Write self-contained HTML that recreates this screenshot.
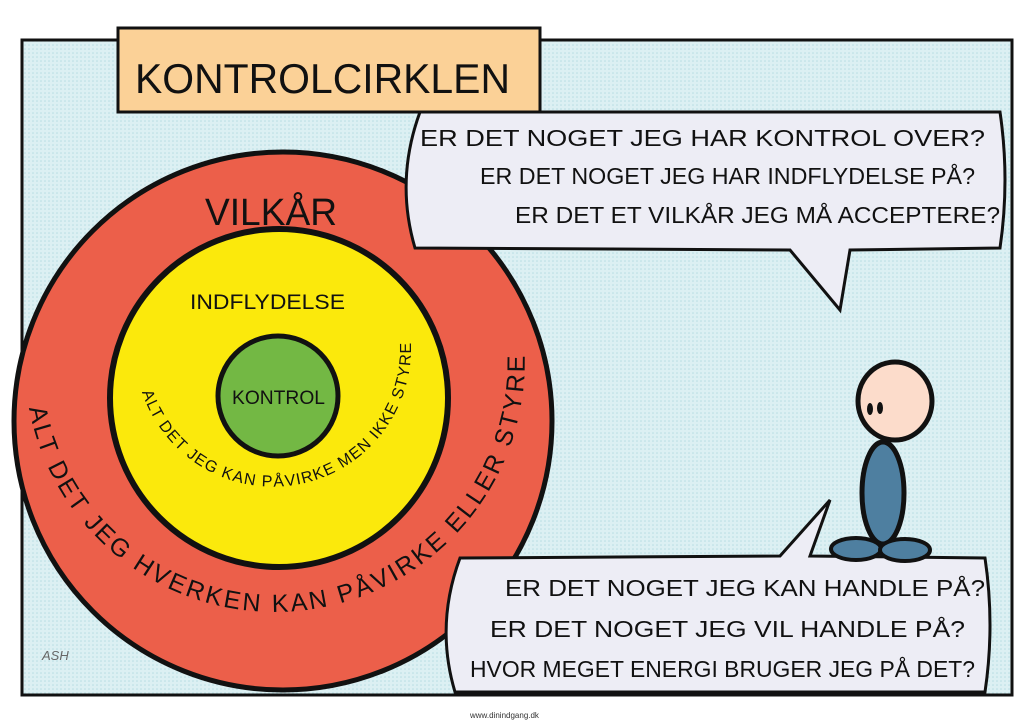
<!DOCTYPE html>
<html><head><meta charset="utf-8"><style>
body{margin:0;width:1024px;height:724px;background:#fff;overflow:hidden;font-family:"Liberation Sans",sans-serif}
svg{display:block}
</style></head><body>
<svg width="1024" height="724" viewBox="0 0 1024 724">
<defs>
<pattern id="dots" width="4" height="4" patternUnits="userSpaceOnUse"><rect width="4" height="4" fill="#dcf0f3"/><circle cx="1" cy="1" r="0.8" fill="#b8dde3"/></pattern>
</defs>
<rect x="22" y="40" width="990" height="655" fill="url(#dots)" stroke="#111" stroke-width="3"/>
<!-- title -->
<rect x="118" y="28" width="422" height="84" fill="#fbd197" stroke="#111" stroke-width="3"/>
<text x="135" y="93" font-size="42" fill="#111" textLength="375" lengthAdjust="spacingAndGlyphs">KONTROLCIRKLEN</text>
<!-- circles -->
<circle cx="283" cy="421" r="269" fill="#ec5f4a" stroke="#111" stroke-width="5"/>
<circle cx="279" cy="398" r="169" fill="#fbe90c" stroke="#111" stroke-width="6"/>
<circle cx="278" cy="396" r="60" fill="#73b844" stroke="#111" stroke-width="5"/>
<text x="205" y="225" font-size="38" fill="#111" textLength="132" lengthAdjust="spacingAndGlyphs">VILKÅR</text>
<text x="190" y="309" font-size="21" fill="#111" textLength="155" lengthAdjust="spacingAndGlyphs">INDFLYDELSE</text>
<text x="232" y="404" font-size="19" fill="#111" textLength="93" lengthAdjust="spacingAndGlyphs">KONTROL</text>
<path id="yarc" d="M142,392 A138,138 0 0 0 411,346" fill="none"/>
<text font-size="16" fill="#111"><textPath href="#yarc" textLength="395" lengthAdjust="spacing">ALT DET JEG KAN PÅVIRKE MEN IKKE STYRE</textPath></text>
<path id="rarc" d="M29,408 A250,250 0 0 0 524,343" fill="none"/>
<text font-size="25" fill="#111"><textPath href="#rarc" textLength="745" lengthAdjust="spacing">ALT DET JEG HVERKEN KAN PÅVIRKE ELLER STYRE</textPath></text>
<!-- bubble 1 -->
<path d="M420,112 L1000,112 Q1010,180 1000,248 L850,250 L840,310 L790,250 L415,248 Q395,180 420,112 Z" fill="#ededf5" stroke="#111" stroke-width="3"/>
<text x="420" y="146" font-size="23" fill="#111" textLength="565" lengthAdjust="spacingAndGlyphs">ER DET NOGET JEG HAR KONTROL OVER?</text>
<text x="480" y="184" font-size="23" fill="#111" textLength="495" lengthAdjust="spacingAndGlyphs">ER DET NOGET JEG HAR INDFLYDELSE PÅ?</text>
<text x="515" y="223" font-size="23" fill="#111" textLength="485" lengthAdjust="spacingAndGlyphs">ER DET ET VILKÅR JEG MÅ ACCEPTERE?</text>
<!-- bubble 2 -->
<path d="M460,558 L780,556 L830,500 L810,556 L985,558 Q995,625 985,692 L455,692 Q435,625 460,558 Z" fill="#ededf5" stroke="#111" stroke-width="3"/>
<text x="505" y="596" font-size="23" fill="#111" textLength="480" lengthAdjust="spacingAndGlyphs">ER DET NOGET JEG KAN HANDLE PÅ?</text>
<text x="490" y="637" font-size="23" fill="#111" textLength="475" lengthAdjust="spacingAndGlyphs">ER DET NOGET JEG VIL HANDLE PÅ?</text>
<text x="470" y="677" font-size="23" fill="#111" textLength="505" lengthAdjust="spacingAndGlyphs">HVOR MEGET ENERGI BRUGER JEG PÅ DET?</text>
<!-- person -->
<ellipse cx="883" cy="493" rx="21" ry="51" fill="#4e7fa0" stroke="#111" stroke-width="5"/>
<ellipse cx="856" cy="549" rx="25" ry="11" fill="#4e7fa0" stroke="#111" stroke-width="4"/>
<ellipse cx="905" cy="550" rx="25" ry="11" fill="#4e7fa0" stroke="#111" stroke-width="4"/>
<ellipse cx="895" cy="401" rx="37" ry="39" fill="#fcdccb" stroke="#111" stroke-width="5"/>
<ellipse cx="870" cy="409" rx="3" ry="6" fill="#111"/>
<ellipse cx="880" cy="408" rx="3" ry="6" fill="#111"/>
<text x="470" y="718" font-size="8" fill="#333">www.dinindgang.dk</text>
<text x="42" y="660" font-size="13" fill="#666" font-style="italic">ASH</text>
</svg>
</body></html>
